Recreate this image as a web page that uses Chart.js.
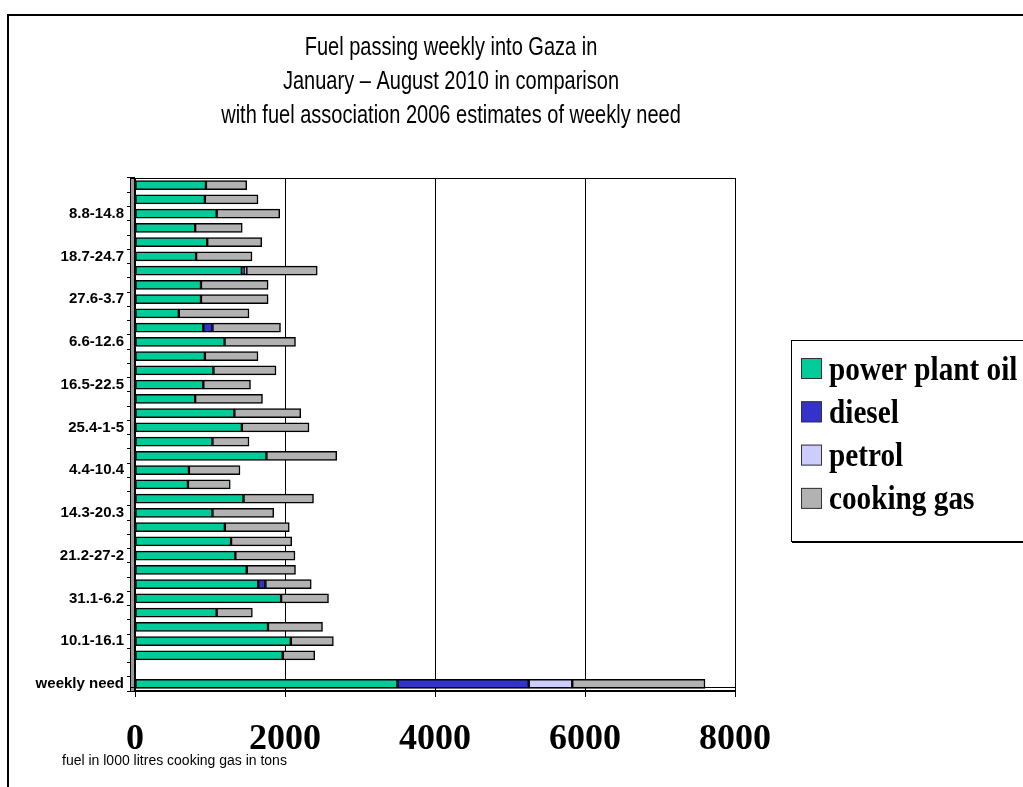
<!DOCTYPE html>
<html>
<head>
<meta charset="utf-8">
<script src="https://cdn.jsdelivr.net/npm/chart.js@4/dist/chart.umd.min.js"></script>
<style>
html,body{margin:0;padding:0;background:#fff;}
#wrap{width:1023px;height:787px;position:relative;}
</style>
</head>
<body>
<div id="wrap"><canvas id="c" width="1023" height="787"></canvas></div>
<script>
// Categories from bottom (index 0) to top
const categories = ['weekly need', '', '3.1-9.1', '10.1-16.1', '17.1-23.1', '24.1-30.1', '31.1-6.2',
  '7.2-13.2', '14.2-20.2', '21.2-27-2', '28.2-6.3', '7.3-13.3', '14.3-20.3', '21.3-27.3',
  '28.3-3.4', '4.4-10.4', '11.4-17.4', '18.4-24.4', '25.4-1-5', '2.5-8.5', '9.5-15.5',
  '16.5-22.5', '23.5-29.5', '30.5-5.6', '6.6-12.6', '13.6-19.6', '20.6-26.6', '27.6-3.7',
  '4.7-10.7', '11.7-17.7', '18.7-24.7', '25.7-31.7', '1.8-7.8', '8.8-14.8', '15.8-21.8', '22.8-28.8'];

const powerPlantOil = [3500, null, 1970, 2078, 1773, 1089, 1948, 1643, 1490, 1338, 1281, 1198, 1033, 1447,
  706, 719, 1752, 1033, 1425, 1325, 802, 911, 1046, 932, 1194, 911, 584, 880,
  880, 1425, 815, 963, 802, 1089, 932, 946];

const diesel = [1750, null, 0, 0, 0, 0, 0, 96, 0, 0, 0, 0, 0, 0,
  0, 0, 0, 0, 0, 0, 0, 0, 0, 0, 0, 122, 0, 0,
  0, 30, 0, 0, 0, 0, 0, 0];

const petrol = [580, null, 0, 0, 0, 0, 0, 0, 0, 0, 0, 0, 0, 0,
  0, 0, 0, 0, 0, 0, 0, 0, 0, 0, 0, 0, 0, 0,
  0, 30, 0, 0, 0, 0, 0, 0];

const cookingGas = [1770, null, 427, 567, 727, 476, 632, 611, 650, 795, 809, 859, 817, 933,
  564, 681, 938, 487, 895, 885, 898, 629, 834, 708, 946, 907, 936, 895,
  895, 945, 745, 727, 628, 841, 708, 544];

const xTicks = [0, 2000, 4000, 6000, 8000];

const titleLines = ['Fuel passing weekly into Gaza in', 'January \u2013 August 2010 in comparison', 'with fuel association 2006 estimates of weekly need'];
const axisNote = 'fuel in l000 litres cooking gas in tons';

const seriesNames = ['power plant oil', 'diesel', 'petrol', 'cooking gas'];
const seriesColors = ['#00CC99', '#3333CC', '#CCCCFF', '#B2B2B2'];

const seriesData = [powerPlantOil, diesel, petrol, cookingGas];

const decor = {
  id: 'decor',
  beforeDraw(chart) {
    const ctx = chart.ctx;
    ctx.save();
    ctx.fillStyle = '#fff';
    ctx.fillRect(0, 0, chart.width, chart.height);
    // outer frame
    ctx.strokeStyle = '#000';
    ctx.lineWidth = 2;
    ctx.beginPath();
    ctx.moveTo(8, 800);
    ctx.lineTo(8, 15);
    ctx.lineTo(1030, 15);
    ctx.stroke();
    // title (condensed)
    ctx.fillStyle = '#000';
    ctx.textAlign = 'center';
    ctx.textBaseline = 'middle';
    ctx.font = '26px "Liberation Sans", Arial, sans-serif';
    const ys = [48, 82, 116];
    titleLines.forEach((t, i) => {
      ctx.save();
      ctx.translate(451, ys[i]);
      ctx.scale(0.77, 1);
      ctx.fillText(t, 0, 0);
      ctx.restore();
    });
    // axis note
    ctx.textAlign = 'left';
    ctx.font = '14px "Liberation Sans", Arial, sans-serif';
    ctx.fillText(axisNote, 62, 761);
    ctx.restore();
  },
  afterDraw(chart) {
    const ctx = chart.ctx;
    const a = chart.chartArea;
    ctx.save();
    // plot box top border
    ctx.strokeStyle = '#000';
    ctx.lineWidth = 1;
    ctx.beginPath();
    ctx.moveTo(a.left, a.top + 0.5);
    ctx.lineTo(a.right, a.top + 0.5);
    ctx.stroke();
    // left wall (3D)
    ctx.fillStyle = '#999';
    ctx.fillRect(a.left - 4, a.top, 4, a.bottom - a.top);
    ctx.strokeStyle = '#000';
    ctx.strokeRect(a.left - 4.5, a.top + 0.5, 4, a.bottom - a.top);
    // floor (3D)
    ctx.beginPath();
    ctx.moveTo(a.left - 4, a.bottom - 3.5);
    ctx.lineTo(a.right, a.bottom - 3.5);
    ctx.stroke();
    // legend
    ctx.lineWidth = 1;
    ctx.strokeStyle = '#000';
    ctx.strokeRect(791.5, 340.5, 260, 201);
    ctx.beginPath();
    ctx.moveTo(792, 542.5);
    ctx.lineTo(1030, 542.5);
    ctx.stroke();
    ctx.font = 'bold 34px "Liberation Serif", "Times New Roman", serif';
    ctx.textAlign = 'left';
    ctx.textBaseline = 'alphabetic';
    chart.data.datasets.forEach((ds, i) => {
      const cy = 368.5 + i * 43.3;
      ctx.fillStyle = ds.backgroundColor;
      ctx.fillRect(801, cy - 10.5, 21, 21);
      ctx.strokeStyle = '#333';
      ctx.strokeRect(801.5, cy - 10, 20, 20);
      ctx.fillStyle = '#000';
      ctx.save();
      ctx.translate(829, cy + 11);
      ctx.scale(0.86, 1);
      ctx.fillText(ds.label, 0, 0);
      ctx.restore();
    });
    ctx.restore();
  }
};

new Chart(document.getElementById('c'), {
  type: 'bar',
  data: {
    labels: categories,
    datasets: seriesNames.map((n, i) => ({
      label: n,
      data: seriesData[i],
      backgroundColor: seriesColors[i],
      borderColor: '#000',
      borderWidth: 1.5,
      borderSkipped: false,
      barThickness: 9
    }))
  },
  options: {
    indexAxis: 'y',
    responsive: false,
    animation: false,
    devicePixelRatio: 1,
    layout: { padding: { top: 178, right: 288, bottom: 26, left: 0 } },
    plugins: { legend: { display: false }, title: { display: false }, tooltip: { enabled: false } },
    scales: {
      x: {
        stacked: true,
        min: xTicks[0],
        max: xTicks[xTicks.length - 1],
        afterBuildTicks(s) { s.ticks = xTicks.map(v => ({ value: v })); },
        ticks: {
          color: '#000',
          padding: 21,
          font: { family: '"Liberation Serif", "Times New Roman", serif', weight: 'bold', size: 36 },
          callback(v) { return String(v); }
        },
        grid: { color: '#000', lineWidth: 1, tickLength: 6, drawTicks: true },
        border: { color: '#000', width: 2 },
        afterFit(s) { s.height = 70; }
      },
      y: {
        stacked: true,
        reverse: true,
        ticks: {
          autoSkip: false,
          color: '#000',
          padding: 3,
          font: { family: '"Liberation Sans", Arial, sans-serif', weight: 'bold', size: 15 },
          callback(v, i) { return i % 3 === 0 ? this.getLabelForValue(v) : ''; }
        },
        grid: { drawOnChartArea: false, color: '#000', tickLength: 8, offset: true },
        border: { color: '#000', width: 1 },
        afterFit(s) { s.width = 135; }
      }
    }
  },
  plugins: [decor]
});
</script>
</body>
</html>
